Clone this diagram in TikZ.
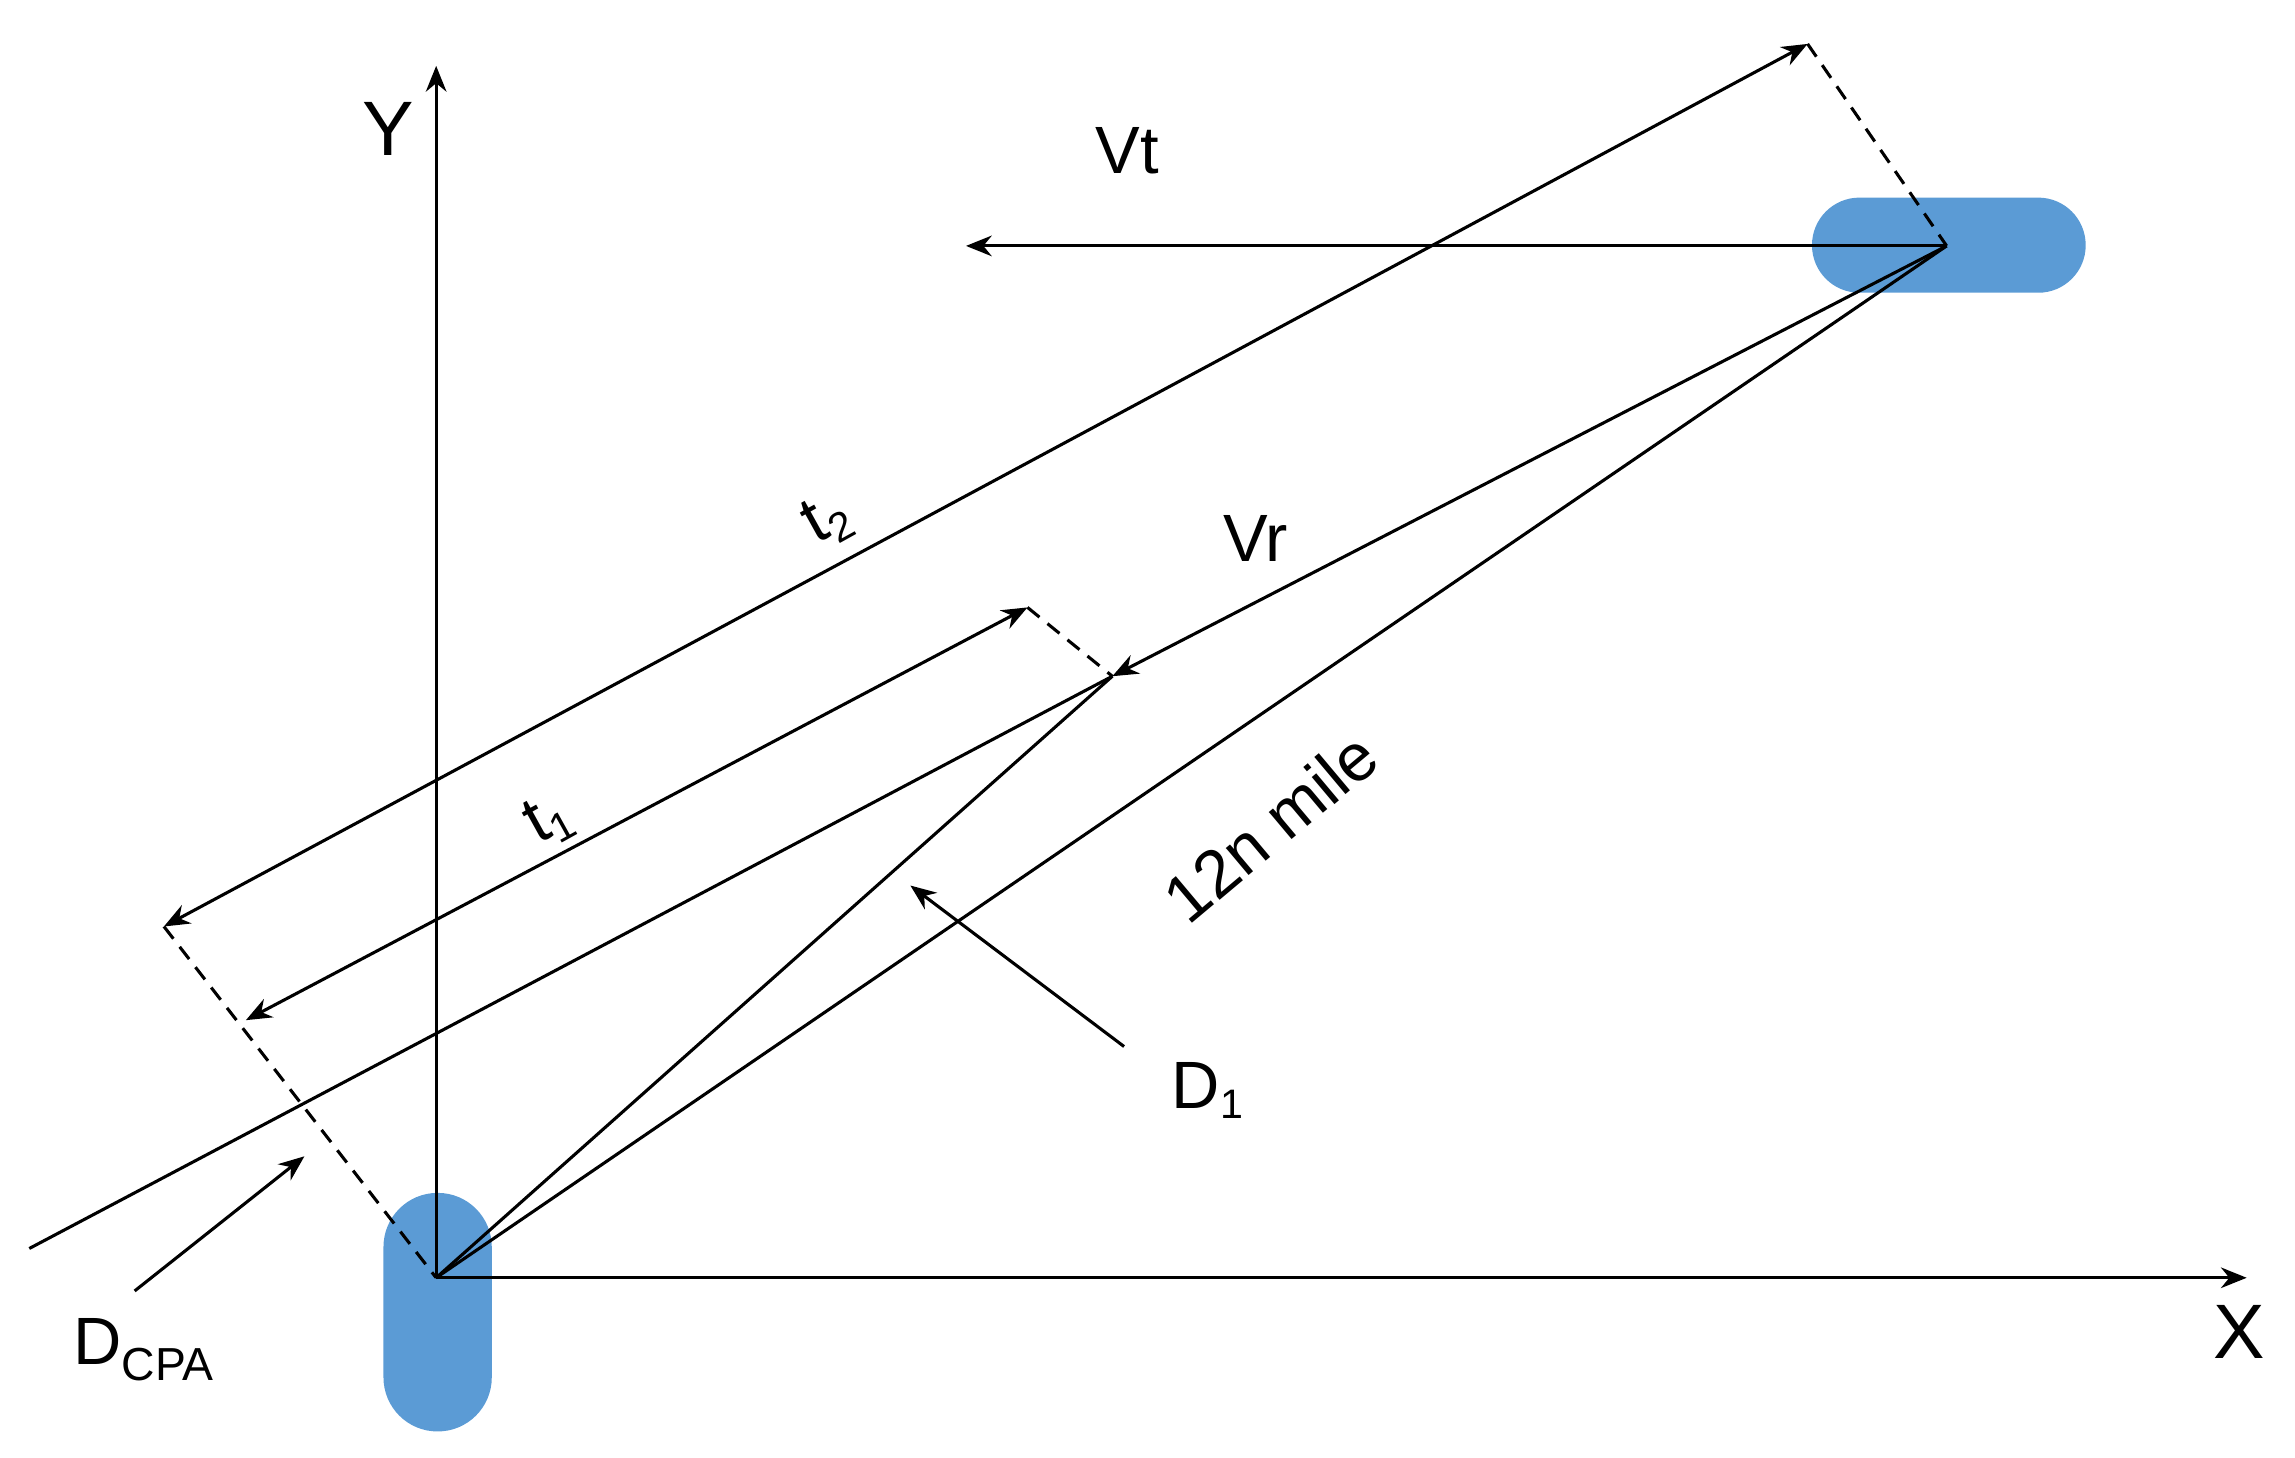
\documentclass[tikz,border=0pt]{standalone}
\usepackage{fontspec}
\setmainfont{Liberation Sans}
\usetikzlibrary{arrows.meta}
\definecolor{shipblue}{RGB}{91,155,213}
\begin{document}
\begin{tikzpicture}[x=0.01cm,y=-0.01cm,line width=0.6pt,
  arr/.style={-{Stealth[length=5pt,width=4pt]}},
  dim/.style={{Stealth[length=5pt,width=4pt]}-{Stealth[length=5pt,width=4pt]}},
  dsh/.style={dashed,dash pattern=on 3pt off 2pt},
  lab/.style={font=\fontsize{13}{15}\selectfont,inner sep=0pt}]
\useasboundingbox (0,0) rectangle (1568,996);
\fill[shipblue,rounded corners=0.369cm] (262,815) rectangle (336,978);
\fill[shipblue,rounded corners=0.324cm] (1238,135) rectangle (1425,200);
\coordinate (O) at (298,873);
\coordinate (T) at (1330,168);
\coordinate (P1) at (760,462);
\coordinate (Yend) at (298,45);
\coordinate (Xend) at (1535,873);
\coordinate (Vtend) at (660,168);
\coordinate (Vrend) at (20,853);
\coordinate (A2) at (112,633);
\coordinate (B2) at (1235,30);
\coordinate (A1) at (168,697);
\coordinate (B1) at (702,415);
\coordinate (D1s) at (768,715);
\coordinate (D1e) at (622,605);
\coordinate (Ds) at (92,882);
\coordinate (De) at (208,790);
\draw[arr] (O) -- (Yend);
\draw[arr] (O) -- (Xend);
\draw[arr] (T) -- (Vtend);
\draw[arr] (T) -- (P1);
\draw (P1) -- (Vrend);
\draw (O) -- (P1);
\draw (O) -- (T);
\draw[dim] (A2) -- (B2);
\draw[dim] (A1) -- (B1);
\draw[dsh] (B2) -- (T);
\draw[dsh] (B1) -- (P1);
\draw[dsh] (A2) -- (O);
\draw[arr] (D1s) -- (D1e);
\draw[arr] (Ds) -- (De);
\node[lab] (Ylab) at (265,88) {\fontsize{15}{17}\selectfont Y};
\node[lab] (Xlab) at (1530,910) {\fontsize{15}{17}\selectfont X};
\node[lab] (Vt) at (770,103) {Vt};
\node[lab] (Vr) at (858,368) {Vr};
\node[lab,rotate=29] (t2) at (565,355) {t{\fontsize{8}{9}\selectfont\raisebox{-2pt}{2}}};
\node[lab,rotate=29] (t1) at (375,560) {t{\fontsize{8}{9}\selectfont\raisebox{-2pt}{1}}};
\node[lab,rotate=40] (mile) at (868,565) {12n mile};
\node[lab] (D1) at (825,745) {D{\fontsize{8}{9}\selectfont\raisebox{-2pt}{1}}};
\node[lab] (DCPA) at (98,922) {D{\fontsize{9}{10}\selectfont\raisebox{-3pt}{CPA}}};
\end{tikzpicture}
\end{document}
